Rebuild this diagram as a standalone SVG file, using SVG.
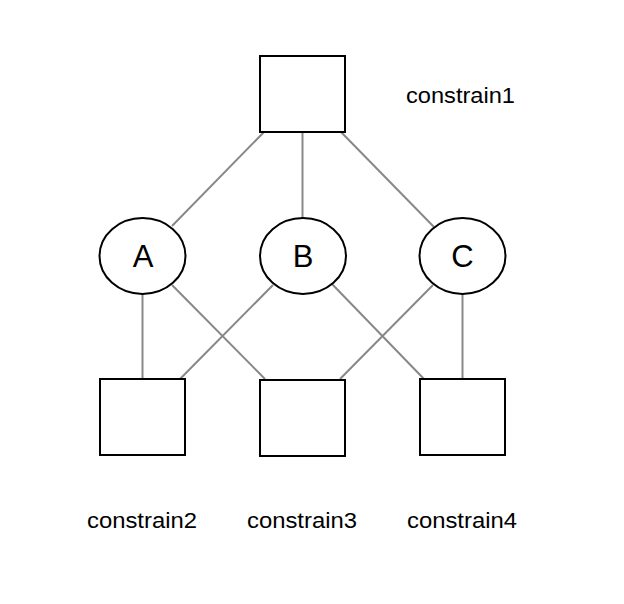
<svg xmlns="http://www.w3.org/2000/svg" width="624" height="604" viewBox="0 0 624 604">
<style>
.box{fill:#fff;stroke:#000;stroke-width:2}
.conn line{stroke:#888;stroke-width:2}
.lbl{font-family:"Liberation Sans",Arial,sans-serif;font-size:22px;fill:#000}
.big{font-family:"Liberation Sans",Arial,sans-serif;font-size:31px;fill:#000;text-anchor:middle}
</style>
<rect width="624" height="604" fill="#fff"/>
<g id="connectors" class="conn">
<line x1="264" y1="132" x2="172" y2="226"/>
<line x1="302.5" y1="132" x2="302.5" y2="218"/>
<line x1="341" y1="132" x2="434" y2="227"/>
<line x1="142.5" y1="294" x2="142.5" y2="379"/>
<line x1="172" y1="285" x2="265" y2="379"/>
<line x1="273" y1="285" x2="180" y2="379"/>
<line x1="332" y1="284" x2="424" y2="379"/>
<line x1="433" y1="285" x2="340" y2="379"/>
<line x1="462.5" y1="294" x2="462.5" y2="379"/>
</g>
<g id="top"><rect class="box" x="260" y="56" width="85" height="76"/></g>
<g id="nodeA"><ellipse class="box" cx="142.5" cy="256" rx="43" ry="38"/><text class="big" x="143" y="267">A</text></g>
<g id="nodeB"><ellipse class="box" cx="303" cy="256" rx="43" ry="38"/><text class="big" x="303" y="267">B</text></g>
<g id="nodeC"><ellipse class="box" cx="462.5" cy="256" rx="43" ry="38"/><text class="big" x="462.5" y="267">C</text></g>
<g id="bottom2"><rect class="box" x="100" y="379" width="85" height="76"/></g>
<g id="bottom3"><rect class="box" x="260" y="380" width="85" height="76"/></g>
<g id="bottom4"><rect class="box" x="420" y="379" width="85" height="76"/></g>
<g id="labels">
<text class="lbl" x="406" y="103" textLength="109" lengthAdjust="spacingAndGlyphs">constrain1</text>
<text class="lbl" x="87" y="528" textLength="110" lengthAdjust="spacingAndGlyphs">constrain2</text>
<text class="lbl" x="247" y="528" textLength="110" lengthAdjust="spacingAndGlyphs">constrain3</text>
<text class="lbl" x="407" y="528" textLength="110" lengthAdjust="spacingAndGlyphs">constrain4</text>
</g>
</svg>
